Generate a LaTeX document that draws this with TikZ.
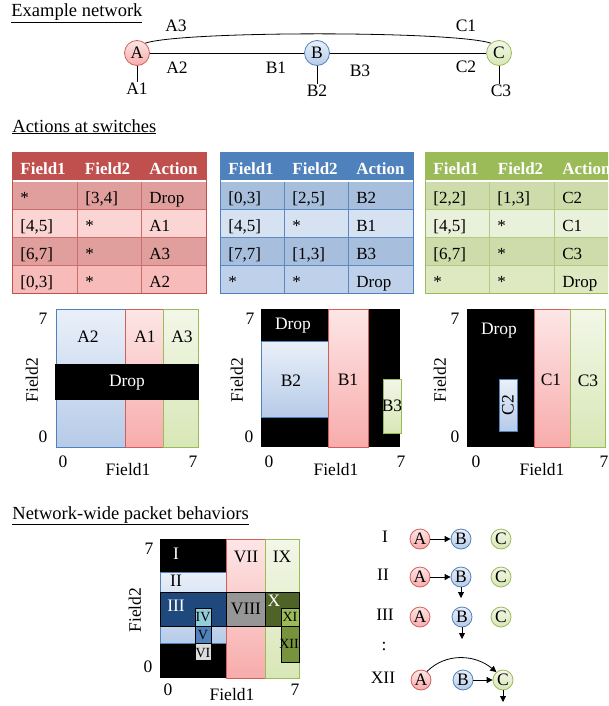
\documentclass[tikz,border=0pt]{standalone}
\usepackage{fontspec}
\setmainfont{Liberation Serif}
\usetikzlibrary{arrows.meta}

\definecolor{redhead}{RGB}{192,80,77}
\definecolor{reddark}{RGB}{224,158,156}
\definecolor{redlight}{RGB}{250,213,212}
\definecolor{redmid}{RGB}{247,187,186}
\definecolor{redgrid}{RGB}{208,108,106}
\definecolor{bluehead}{RGB}{79,129,189}
\definecolor{bluedark}{RGB}{167,190,220}
\definecolor{bluelight}{RGB}{214,226,242}
\definecolor{bluemid}{RGB}{190,208,234}
\definecolor{bluegrid}{RGB}{90,138,196}
\definecolor{greenhead}{RGB}{155,187,89}
\definecolor{greendark}{RGB}{206,220,171}
\definecolor{greenlight}{RGB}{234,241,218}
\definecolor{greenmid}{RGB}{222,233,194}
\definecolor{greengrid}{RGB}{178,203,128}
\definecolor{redtop}{RGB}{253,230,230}
\definecolor{redbot}{RGB}{247,172,171}
\definecolor{redline}{RGB}{210,95,92}
\definecolor{bluetop}{RGB}{234,240,249}
\definecolor{bluebot}{RGB}{182,203,232}
\definecolor{bluelineb}{RGB}{79,129,189}
\definecolor{greentop}{RGB}{243,247,232}
\definecolor{greenbot}{RGB}{216,231,182}
\definecolor{greenline}{RGB}{155,187,89}
\definecolor{navy}{RGB}{31,73,125}
\definecolor{cyanbox}{RGB}{146,205,220}
\definecolor{midblue}{RGB}{79,129,189}
\definecolor{lightgray}{RGB}{220,220,220}
\definecolor{midgray}{RGB}{150,150,150}
\definecolor{darkolive}{RGB}{79,98,40}
\definecolor{olivelight}{RGB}{155,187,89}
\definecolor{olivemid}{RGB}{119,147,60}

\begin{document}
\begin{tikzpicture}[x=1pt, y=-1pt, line width=0.8pt,
    every node/.style={font=\fontsize{17.5}{20}\selectfont, inner sep=1pt},
    title/.style={anchor=base west, inner sep=0pt, font=\fontsize{18.5}{22}\selectfont},
    sw/.style={circle, draw, minimum size=25pt, inner sep=0pt},
    swA/.style={sw, draw=redline, top color=redtop, bottom color=redbot},
    swB/.style={sw, draw=bluelineb, top color=bluetop, bottom color=bluebot},
    swC/.style={sw, draw=greenline, top color=greentop, bottom color=greenbot},
    small/.style={minimum size=20pt},
    hcell/.style={anchor=base west, text=white, font=\fontsize{17}{20}\selectfont\bfseries},
    cell/.style={anchor=base west, font=\fontsize{17}{20}\selectfont},
    redzone/.style={draw=redline, top color=redtop, bottom color=redbot},
    bluezone/.style={draw=bluelineb, top color=bluetop, bottom color=bluebot},
    greenzone/.style={draw=greenline, top color=greentop, bottom color=greenbot},
    tiny/.style={font=\fontsize{14}{16}\selectfont},
    flow/.style={-{Triangle[length=6pt,width=6pt]}}]
\clip (0,0) rectangle (608,706);

% example network
\node[title] (t1) at (11,17) {\underline{Example network}};
\node[swA] (A) at (137,53) {A};
\node[swB] (B) at (317,53) {B};
\node[swC] (C) at (499,53) {C};
\draw (A) -- (B) -- (C);
\draw (A.50) to[out=18,in=162,distance=40pt] (C.130);
\node (a3) at (176,26) {A3};
\node (a2) at (177,68) {A2};
\node (a1) at (137,89) {A1};
\node (b1) at (276,68) {B1};
\node (b3) at (360,71) {B3};
\node (b2) at (317,91) {B2};
\node (c1) at (466,26) {C1};
\node (c2) at (466,67) {C2};
\node (c3) at (501,91) {C3};
\draw (A) -- (A |- a1.north);
\draw (B) -- (B |- b2.north);
\draw (C) -- (C |- c3.north);

% tables
\node[title] (t2) at (12,132) {\underline{Actions at switches}};

\fill[redhead] (12,152) rectangle +(194,28);
\foreach \c [count=\r from 0] in {reddark,redlight,reddark,redmid}
  \fill[\c] (12,181+28*\r) rectangle +(194,28);
\draw[redgrid] (12,209) -- +(194,0) (12,237) -- +(194,0) (12,265) -- +(194,0)
  (77,181) -- (77,293) (141,181) -- (141,293);
\draw[white, line width=2pt] (12,181) -- +(194,0);
\draw[redhead] (12,152) rectangle (206,293);
\foreach \h [count=\k from 0] in {Field1,Field2,Action}
  \node[hcell] (ha\k) at (19+64.5*\k,174) {\h};
\foreach \fa/\fb/\ac [count=\r from 0] in {*/{[3,4]}/Drop, {[4,5]}/*/A1, {[6,7]}/*/A3, {[0,3]}/*/A2} {
  \node[cell] (ra\r-1) at (19,203+28*\r) {\fa};
  \node[cell] (ra\r-2) at (84,203+28*\r) {\fb};
  \node[cell] (ra\r-3) at (148,203+28*\r) {\ac};
}

\fill[bluehead] (220,152) rectangle +(193,28);
\foreach \c [count=\r from 0] in {bluedark,bluelight,bluedark,bluemid}
  \fill[\c] (220,181+28*\r) rectangle +(193,28);
\draw[bluegrid] (220,209) -- +(193,0) (220,237) -- +(193,0) (220,265) -- +(193,0)
  (284,181) -- (284,293) (348,181) -- (348,293);
\draw[white, line width=2pt] (220,181) -- +(193,0);
\draw[bluehead] (220,152) rectangle (413,293);
\foreach \h [count=\k from 0] in {Field1,Field2,Action}
  \node[hcell] (hb\k) at (227+64*\k,174) {\h};
\foreach \fa/\fb/\ac [count=\r from 0] in {{[0,3]}/{[2,5]}/B2, {[4,5]}/*/B1, {[7,7]}/{[1,3]}/B3, */*/Drop} {
  \node[cell] (rb\r-1) at (227,203+28*\r) {\fa};
  \node[cell] (rb\r-2) at (291,203+28*\r) {\fb};
  \node[cell] (rb\r-3) at (355,203+28*\r) {\ac};
}

\fill[greenhead] (425,152) rectangle +(194,28);
\foreach \c [count=\r from 0] in {greendark,greenlight,greendark,greenmid}
  \fill[\c] (425,181+28*\r) rectangle +(194,28);
\draw[greengrid] (425,209) -- +(194,0) (425,237) -- +(194,0) (425,265) -- +(194,0)
  (489,181) -- (489,293) (554,181) -- (554,293);
\draw[white, line width=2pt] (425,181) -- +(194,0);
\draw[greenhead] (425,152) rectangle (619,293);
\foreach \h [count=\k from 0] in {Field1,Field2,Action}
  \node[hcell] (hc\k) at (432+64.5*\k,174) {\h};
\foreach \fa/\fb/\ac [count=\r from 0] in {{[2,2]}/{[1,3]}/C2, {[4,5]}/*/C1, {[6,7]}/*/C3, */*/Drop} {
  \node[cell] (rc\r-1) at (432,203+28*\r) {\fa};
  \node[cell] (rc\r-2) at (496,203+28*\r) {\fb};
  \node[cell] (rc\r-3) at (561,203+28*\r) {\ac};
}

% header spaces of switch A
\draw[bluezone] (56,309) rectangle (125,447);
\draw[redzone] (125,309) rectangle (163,447);
\draw[greenzone] (163,309) rectangle (198,447);
\fill[black] (55,364) rectangle (199,400);
\node (ga2) at (88,337) {A2};
\node (ga1) at (145,337) {A1};
\node (ga3) at (182,337) {A3};
\node[text=white] (gadrop) at (127,383) {Drop};
\node (ya7) at (43,319) {7};
\node (ya0) at (43,437) {0};
\node[rotate=90] (yal) at (32,380) {Field2};
\node (xa0) at (63,462) {0};
\node (xal) at (128,470) {Field1};
\node (xa7) at (193,462) {7};

% switch B
\fill[black] (261,309) rectangle (400,447);
\draw[bluezone] (261,341) rectangle (328,417);
\draw[redzone] (328,309) rectangle (368,447);
\draw[greenzone] (383,379) rectangle (401,433);
\node[text=white] (gbdrop) at (293,326) {Drop};
\node (gb2) at (291,381) {B2};
\node (gb1) at (348,380) {B1};
\node (gb3) at (392,406) {B3};
\node (yb7) at (250,319) {7};
\node (yb0) at (249,437) {0};
\node[rotate=90] (ybl) at (237,380) {Field2};
\node (xb0) at (269,462) {0};
\node (xbl) at (336,470) {Field1};
\node (xb7) at (401,462) {7};

% switch C
\fill[black] (467,309) rectangle (605,447);
\draw[redzone] (534,309) rectangle (570,447);
\draw[greenzone] (570,309) rectangle (605,447);
\draw[bluezone] (499,379) rectangle (517,431);
\node[text=white] (gcdrop) at (499,331) {Drop};
\node (gc1) at (551,380) {C1};
\node (gc3) at (588,381) {C3};
\node[rotate=90] (gc2) at (508,405) {C2};
\node (yc7) at (455,319) {7};
\node (yc0) at (455,437) {0};
\node[rotate=90] (ycl) at (440,380) {Field2};
\node (xc0) at (476,462) {0};
\node (xcl) at (542,470) {Field1};
\node (xc7) at (604,462) {7};

% network-wide behaviors
\node[title] (t3) at (12,519) {\underline{Network-wide packet behaviors}};
\fill[black] (160,539) rectangle (226,678);
\draw[bluezone] (160,572) rectangle (226,643);
\draw[redzone] (226,539) rectangle (265,678);
\draw[greenzone] (265,539) rectangle (299,678);
\draw[fill=navy] (160,592) rectangle (226,626);
\draw[fill=midgray] (226,592) rectangle (265,626);
\draw[fill=darkolive] (265,592) rectangle (299,626);
\draw[fill=cyanbox] (195,608) rectangle (211,626);
\draw[fill=midblue] (195,626) rectangle (211,643);
\draw[fill=lightgray] (195,643) rectangle (211,660);
\draw[fill=olivelight] (281,608) rectangle (299,626);
\draw[fill=olivemid] (281,626) rectangle (299,662);
\node[text=white] (p1) at (176,554) {I};
\node (p2) at (176,581) {II};
\node[text=white] (p3) at (176,606) {III};
\node[tiny] (p4) at (203,617) {IV};
\node[tiny] (p5) at (203,635) {V};
\node[tiny] (p6) at (203,653) {VI};
\node (p7) at (246,557) {VII};
\node (p8) at (246,609) {VIII};
\node (p9) at (282,557) {IX};
\node[text=white] (p10) at (274,601) {X};
\node[tiny] (p11) at (290,617) {XI};
\node[tiny] (p12) at (289,644) {XII};
\node (yp7) at (149,549) {7};
\node (yp0) at (148,667) {0};
\node[rotate=90] (ypl) at (135,610) {Field2};
\node (xp0) at (168,690) {0};
\node (xpl) at (232,695) {Field1};
\node (xp7) at (295,690) {7};

% behaviors I, II, III, XII
\node (lI) at (385,537) {I};
\node[swA, small] (iA) at (420,539) {A};
\node[swB, small] (iB) at (461,539) {B};
\node[swC, small] (iC) at (501,539) {C};
\draw[flow] (iA) -- (iB);

\node (lII) at (383,575) {II};
\node[swA, small] (iiA) at (420,577) {A};
\node[swB, small] (iiB) at (461,577) {B};
\node[swC, small] (iiC) at (501,577) {C};
\coordinate (iiD) at (461,598);
\draw[flow] (iiA) -- (iiB);
\draw[flow] (iiB) -- (iiD);

\node (lIII) at (385,615) {III};
\node[swA, small] (iiiA) at (420,617) {A};
\node[swB, small] (iiiB) at (462,617) {B};
\node[swC, small] (iiiC) at (501,617) {C};
\coordinate (iiiD) at (462,639);
\draw[flow] (iiiB) -- (iiiD);

\node (ldots) at (384,647) {:};

\node (lXII) at (383,678) {XII};
\node[swA, small] (xiiA) at (421,680) {A};
\node[swB, small] (xiiB) at (463,680) {B};
\node[swC, small] (xiiC) at (503,680) {C};
\coordinate (xiiD) at (503,702);
\draw[flow] (xiiB) -- (xiiC);
\draw[flow] (xiiA.55) to[out=45,in=140] (xiiC.130);
\draw[flow] (xiiC) -- (xiiD);
\end{tikzpicture}
\end{document}
